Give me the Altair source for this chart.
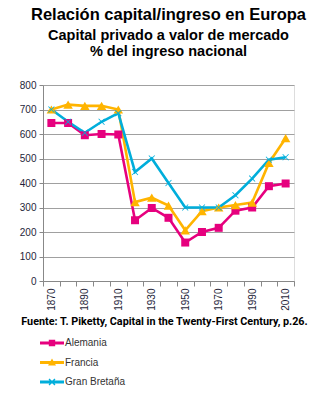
import math
import altair as alt
import pandas as pd

anios = [1870, 1880, 1890, 1900, 1910, 1920, 1930, 1940, 1950, 1960, 1970, 1980, 1990, 2000, 2010]
alemania = [645, 645, 595, 600, 598, 248, 298, 258, 157, 200, 217, 287, 300, 387, 398]
francia = [700, 720, 715, 715, 700, 322, 340, 308, 207, 285, 300, 310, 320, 482, 583]
gran_bretana = [700, 650, 605, 650, 685, 445, 500, 400, 300, 300, 300, 350, 418, 495, 505]
series = ["Alemania", "Francia", "Gran Bretaña"]
colores = ["#E6007E", "#FFB400", "#00AEDB"]

rows = []
for nombre, vals in zip(series, [alemania, francia, gran_bretana]):
    for a, v in zip(anios, vals):
        rows.append({"anio": a, "valor": v, "serie": nombre})
df = pd.DataFrame(rows)


def xpath(a, L):
    pts = [(a, -L), (a, -a), (L, -a), (L, a), (a, a), (a, L), (-a, L), (-a, a), (-L, a), (-L, -a), (-a, -a), (-a, -L)]
    r = [((x - y) / math.sqrt(2), (x + y) / math.sqrt(2)) for x, y in pts]
    return "M" + "L".join(f"{x:.3f},{y:.3f}" for x, y in r) + "Z"


linea = "M-1.2,-0.14H1.2V0.14H-1.2Z"
leg_shapes = [
    linea + " M-0.32,-0.32H0.32V0.32H-0.32Z",
    linea + " M0,-0.4L0.4,0.3L-0.4,0.3Z",
    linea + " " + xpath(0.07, 0.42),
]
marker_x = xpath(0.1, 1.0)

FONT = "Liberation Sans"
color_scale = alt.Scale(domain=series, range=colores)
legend_cfg = alt.Legend(
    title=None,
    orient="none",
    legendX=-1,
    legendY=248,
    direction="vertical",
    padding=0,
    symbolSize=400,
    symbolStrokeWidth=0,
    symbolOpacity=1,
    labelFont=FONT,
    labelFontSize=10,
    labelColor="#333",
    labelOffset=3,
    rowPadding=4.5,
)

base = alt.Chart(df).encode(
    x=alt.X(
        "anio:O",
        axis=alt.Axis(
            title="Fuente: T. Piketty, Capital in the Twenty-First Century, p.26.",
            titleFont="Roboto",
            titleFontWeight="bold",
            titleFontSize=10.8,
            titleColor="#000",
            titlePadding=5,
            titleX=121,
            labelAngle=-90,
            labelExpr="datum.value % 20 == 10 ? datum.label : ''",
            labelFont=FONT,
            labelFontSize=10,
            labelColor="#1f1f3a",
            labelPadding=2,
            tickBand="extent",
            tickSize=5,
            tickColor="#888",
            domainColor="#888",
            grid=False,
        ),
    ),
    y=alt.Y(
        "valor:Q",
        scale=alt.Scale(domain=[0, 800], nice=False),
        axis=alt.Axis(
            title=None,
            values=[0, 100, 200, 300, 400, 500, 600, 700, 800],
            labelFont=FONT,
            labelFontSize=10,
            labelColor="#1f1f3a",
            labelPadding=3,
            tickSize=4,
            tickColor="#888",
            domainColor="#888",
            gridColor="#a0a0a0",
        ),
    ),
    color=alt.Color("serie:N", scale=color_scale, legend=legend_cfg),
)

lineas = base.mark_line(strokeWidth=2.6)

shapes = ["square", "triangle-up", marker_x]
sizes = [64, 90, 70]
puntos = [
    base.transform_filter(alt.datum.serie == s).mark_point(filled=True, opacity=1, shape=sh, size=sz, strokeWidth=0)
    for s, sh, sz in zip(series, shapes, sizes)
]

leyenda = base.transform_filter("false").mark_point(filled=True, opacity=1).encode(
    shape=alt.Shape("serie:N", scale=alt.Scale(domain=series, range=leg_shapes), legend=legend_cfg),
)

chart = alt.layer(lineas, *puntos, leyenda).properties(
    width=251,
    height=196,
    autosize=alt.AutoSizeParams(type="none"),
    padding={"left": 43, "top": 85, "right": 32, "bottom": 117},
    title=alt.TitleParams(
        text="Relación capital/ingreso en Europa",
        subtitle=["Capital privado a valor de mercado", "% del ingreso nacional"],
        font=FONT,
        fontSize=16.5,
        fontWeight="bold",
        color="#000",
        subtitleFont=FONT,
        subtitleFontSize=14.5,
        subtitleFontWeight="bold",
        subtitleColor="#000",
        subtitleLineHeight=16,
        subtitlePadding=5,
        anchor="middle",
        offset=22,
    ),
).configure_view(stroke="#888", strokeWidth=1).configure(background="white")

chart.save("out.html", embed_options={"renderer": "svg", "actions": False})
